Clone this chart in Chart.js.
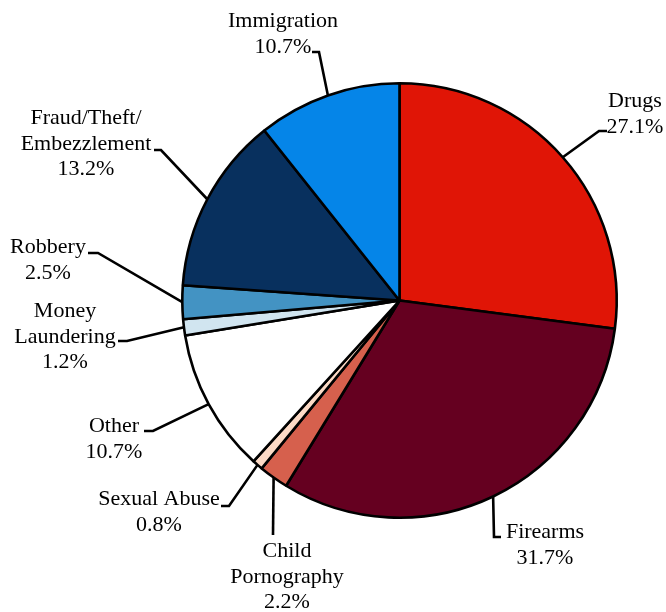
<!DOCTYPE html>
<html>
<head>
<meta charset="utf-8">
<title>Offense types</title>
<script src="https://cdn.jsdelivr.net/npm/chart.js@4.4.0/dist/chart.umd.min.js"></script>
<style>
    html, body { margin: 0; padding: 0; background: #fff; }
    #wrap { width: 666px; height: 612px; }
</style>
</head>
<body>
<div id="wrap"><canvas id="offense-pie" width="666" height="612"></canvas></div>
<script>
    "use strict";

    // Data
    var categories = ["Drugs", "Firearms", "Child Pornography", "Sexual Abuse", "Other",
        "Money Laundering", "Robbery", "Fraud/Theft/Embezzlement", "Immigration"];
    var shares = [27.1, 31.7, 2.2, 0.8, 10.7, 1.2, 2.5, 13.2, 10.7];
    var labelLines = [["Drugs"], ["Firearms"], ["Child", "Pornography"], ["Sexual Abuse"], ["Other"],
        ["Money", "Laundering"], ["Robbery"], ["Fraud/Theft/", "Embezzlement"], ["Immigration"]];

    var sliceColors = ["#e01506", "#650020", "#d6604d", "#fcdac6", "#ffffff",
        "#d1e5f0", "#4393c3", "#08305e", "#0585e8"];

    // Label placement: text centre x, first baseline, tick start and elbow of the leader line
    var labelLayout = [
        {x: 635, y: 107, tick: [607, 131], elbow: [599, 131]},
        {x: 545, y: 538, tick: [501, 537], elbow: [494, 537]},
        {x: 287, y: 557, tick: [273, 535], elbow: [273, 535]},
        {x: 159, y: 505, tick: [221, 506], elbow: [229, 506]},
        {x: 114, y: 432, tick: [144, 431], elbow: [153, 431]},
        {x: 65, y: 317, tick: [118, 341], elbow: [127, 341]},
        {x: 48, y: 253, tick: [88, 253], elbow: [98, 253]},
        {x: 86, y: 124, tick: [154, 150], elbow: [161, 150]},
        {x: 283, y: 27, tick: [312, 52], elbow: [319, 52]}
    ];
    var lineHeight = 25.5;

    // Label Plugin
    var leaderLabels = {
        id: "leaderLabels",
        afterDatasetsDraw: function (chart) {
            var ctx = chart.ctx;
            var meta = chart.getDatasetMeta(0);
            ctx.save();
            ctx.strokeStyle = "#000";
            ctx.lineWidth = 2.6;
            ctx.lineJoin = "miter";
            ctx.fillStyle = "#000";
            ctx.font = '22px "Liberation Serif", "Times New Roman", serif';
            ctx.textAlign = "center";
            ctx.textBaseline = "alphabetic";
            meta.data.forEach(function (arc, i) {
                var lay = labelLayout[i];
                var mid = (arc.startAngle + arc.endAngle) / 2;
                var ax = arc.x + Math.cos(mid) * arc.outerRadius;
                var ay = arc.y + Math.sin(mid) * arc.outerRadius;

                ctx.beginPath();
                ctx.moveTo(lay.tick[0], lay.tick[1]);
                ctx.lineTo(lay.elbow[0], lay.elbow[1]);
                ctx.lineTo(ax, ay);
                ctx.stroke();

                var lines = labelLines[i].concat([shares[i].toFixed(1) + "%"]);
                lines.forEach(function (txt, j) {
                    ctx.fillText(txt, lay.x, lay.y + j * lineHeight);
                });
            });
            ctx.restore();
        }
    };

    // Pie Chart
    var ctx1 = document.getElementById("offense-pie").getContext("2d");
    var myChart1 = new Chart(ctx1, {
        type: "pie",
        data: {
            labels: categories,
            datasets: [{
                label: "Share",
                data: shares,
                backgroundColor: sliceColors,
                borderColor: "#000",
                borderWidth: 2.6
            }]
        },
        options: {
            responsive: false,
            animation: false,
            layout: {
                padding: {left: 181, right: 48, top: 82, bottom: 93}
            },
            plugins: {
                legend: {display: false},
                tooltip: {enabled: false}
            }
        },
        plugins: [leaderLabels]
    });
</script>
</body>
</html>
